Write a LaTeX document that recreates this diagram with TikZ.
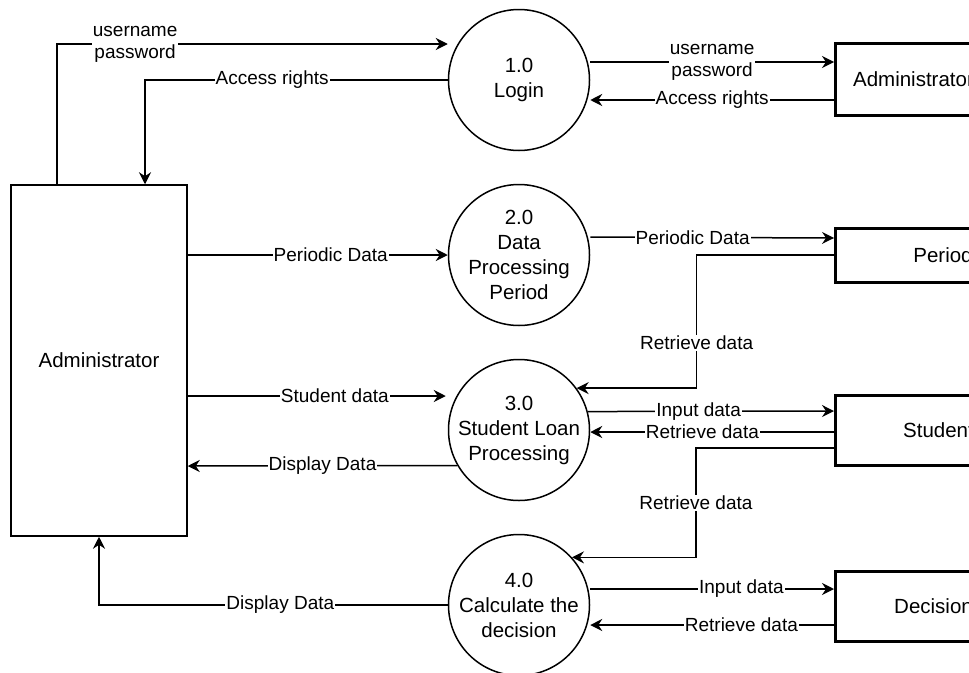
\documentclass[tikz,border=0pt]{standalone}
\usepackage{fontspec}
\setmainfont{Liberation Sans}
\usetikzlibrary{arrows.meta}
\tikzset{
	proc/.style={draw, circle, line width=1.5pt, minimum size=141pt, inner sep=-4pt, align=center, font=\fontsize{20.5}{25}\selectfont},
	ent/.style={draw, rectangle, line width=1.5pt, font=\fontsize{20.5}{25}\selectfont},
	store/.style={draw, rectangle, line width=3pt, anchor=west, font=\fontsize{20.5}{25}\selectfont},
	flow/.style={line width=1.5pt, -{Stealth[length=12pt, width=12pt, inset=4pt]}},
	lbl/.style={fill=white, inner sep=1pt, align=center, font=\fontsize{19}{22}\selectfont}
}
\begin{document}
\begin{tikzpicture}[x=1pt, y=-1pt]
	\useasboundingbox (0,0) rectangle (969,672);
	\clip (0,0) rectangle (969,672);
	\fill[white] (0,0) rectangle (969,672);
	\node[ent, minimum width=176pt, minimum height=351pt] (admin) at (99,360.5) {Administrator};
	\node[proc] (login) at (519,80) {1.0\\Login};
	\node[proc] (dataproc) at (519,255) {2.0\\Data\\Processing\\Period};
	\node[proc] (loanproc) at (519,430) {3.0\\Student Loan\\Processing};
	\node[proc] (decide) at (519,605) {4.0\\Calculate the\\decision};
	\node[store, minimum width=156pt, minimum height=72pt] (adminstore) at (834,79) {Administrator};
	\node[store, minimum width=215pt, minimum height=54pt] (periodstore) at (834,255) {Period};
	\node[store, minimum width=206pt, minimum height=70pt] (studentstore) at (834,430) {Student};
	\node[store, minimum width=196pt, minimum height=70pt] (decisionstore) at (834,606) {Decision};
	\draw[flow] ([xshift=-42pt]admin.north) |- node[lbl, pos=0.6]{username\\password} ([yshift=36pt]login.west);
	\draw[flow] (login.west) -| node[lbl, pos=0.29]{Access rights} ([xshift=46pt]admin.north);
	\draw[flow] (periodstore.west) -| node[lbl, pos=0.83]{Retrieve data} ([xshift=120pt]loanproc.36) -- (loanproc.36);
	\draw[flow] ([yshift=-18pt]studentstore.west) -| node[lbl, pos=0.75]{Retrieve data} ([xshift=124pt]decide.42) -- (decide.42);
	\draw[flow] (decide.west) -| node[lbl, pos=0.24]{Display Data} (admin.south);
	\path[flow]
		([yshift=18pt]login.east) edge node[lbl]{username\\password} ([yshift=17pt]adminstore.west)
		([yshift=-21pt]adminstore.west) edge node[lbl]{Access rights} ([yshift=-20pt]login.east)
		([yshift=105.5pt]admin.east) edge node[lbl, pos=0.55]{Periodic Data} (dataproc.west)
		([yshift=18pt]dataproc.east) edge node[lbl, pos=0.42]{Periodic Data} ([yshift=17pt]periodstore.west)
		([yshift=-35.5pt]admin.east) edge node[lbl, pos=0.57]{Student data} ([xshift=-2pt, yshift=34pt]loanproc.west)
		(loanproc.210) edge node[lbl]{Display Data} ([yshift=-105.5pt]admin.east)
		(loanproc.15) edge node[lbl, pos=0.45]{Input data} ([yshift=19pt]studentstore.west)
		([yshift=-2pt]studentstore.west) edge node[lbl, pos=0.54]{Retrieve data} ([yshift=-2pt]loanproc.east)
		([yshift=16pt]decide.east) edge node[lbl, pos=0.62]{Input data} ([yshift=17pt]decisionstore.west)
		([yshift=-19pt]decisionstore.west) edge node[lbl, pos=0.38]{Retrieve data} ([yshift=-20pt]decide.east);
\end{tikzpicture}
\end{document}
